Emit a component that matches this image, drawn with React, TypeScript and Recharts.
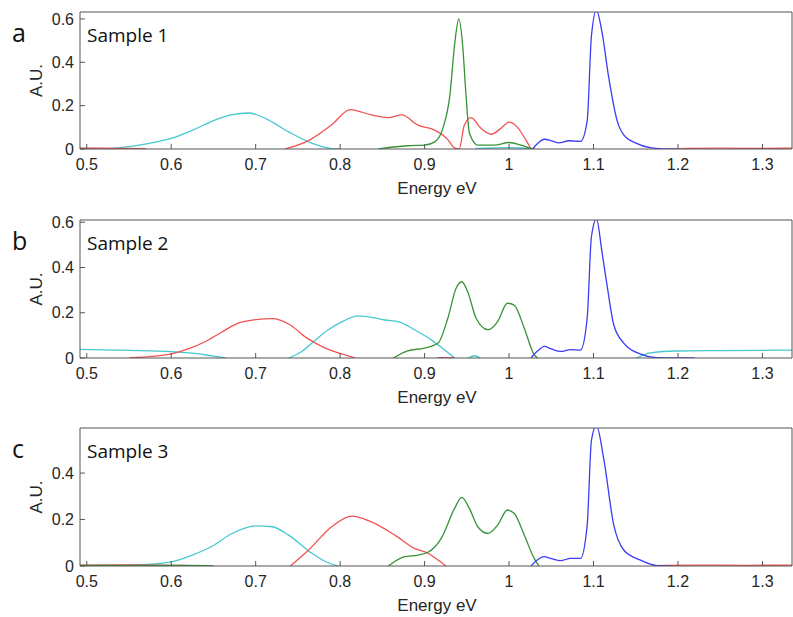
import { Line, LineChart, XAxis, YAxis } from 'recharts';

type Pt = [number, number | null];

const ENERGY_TICKS = [0.5, 0.6, 0.7, 0.8, 0.9, 1, 1.1, 1.2, 1.3];
const ENERGY_DOMAIN: [number, number] = [0.492, 1.335];
const PANEL_LETTERS = ['a', 'b', 'c'];
const SAMPLE_NAMES = ['Sample 1', 'Sample 2', 'Sample 3'];
const Y_MAX = [0.632, 0.61, 0.594];
const Y_TICKS = [
  [0, 0.2, 0.4, 0.6],
  [0, 0.2, 0.4, 0.6],
  [0, 0.2, 0.4],
];

// sample 1
const CYAN_1: Pt[] = [
  [0.49, 0.003], [0.52, 0.003], [0.547, 0.01], [0.574, 0.026], [0.6, 0.049], [0.625, 0.086],
  [0.649, 0.129], [0.672, 0.159], [0.692, 0.166], [0.712, 0.14], [0.739, 0.079], [0.767, 0.026],
  [0.79, 0.002], [0.8, 0], [0.9, null], [0.96, 0.002], [1.0, 0.006], [1.03, 0],
];
const RED_1: Pt[] = [
  [0.49, 0.004], [0.53, 0.003], [0.57, 0.002], [0.6, null],
  [0.735, 0], [0.763, 0.04], [0.79, 0.112], [0.812, 0.182], [0.837, 0.157], [0.857, 0.145],
  [0.873, 0.157], [0.892, 0.11], [0.912, 0.087], [0.926, 0.05], [0.936, 0.004], [0.941, 0],
  [0.947, 0.11], [0.955, 0.145], [0.967, 0.094], [0.979, 0.068], [0.99, 0.094], [1.0, 0.124],
  [1.01, 0.1], [1.02, 0.041], [1.026, 0], [1.1, null],
  [1.2, 0.002], [1.25, 0.004], [1.3, 0.003], [1.34, 0.004],
];
const GREEN_1: Pt[] = [
  [0.845, 0], [0.86, 0.008], [0.88, 0.015], [0.9, 0.018], [0.912, 0.033], [0.922, 0.1],
  [0.93, 0.25], [0.9355, 0.48], [0.9405, 0.6], [0.945, 0.48], [0.949, 0.25], [0.953, 0.075],
  [0.963, 0.018], [0.9825, 0.018], [1.0, 0.03], [1.014, 0.018], [1.026, 0.003], [1.03, 0],
];
const BLUE_1: Pt[] = [
  [1.028, 0], [1.035, 0.03], [1.042, 0.045], [1.05, 0.038], [1.059, 0.028], [1.071, 0.038],
  [1.079, 0.036], [1.0846, 0.035], [1.0925, 0.13], [1.0975, 0.52], [1.1035, 0.64], [1.11, 0.54],
  [1.118, 0.33], [1.128, 0.13], [1.136, 0.064], [1.151, 0.026], [1.167, 0.006], [1.183, 0.001], [1.2, 0],
];

// sample 2
const CYAN_2: Pt[] = [
  [0.49, 0.038], [0.55, 0.034], [0.6, 0.028], [0.633, 0.018], [0.65, 0.008], [0.665, 0], [0.7, null],
  [0.739, 0], [0.755, 0.03], [0.7705, 0.079], [0.786, 0.125], [0.802, 0.16], [0.8215, 0.186],
  [0.84, 0.178], [0.853, 0.168], [0.869, 0.161], [0.888, 0.125], [0.908, 0.08], [0.9235, 0.036],
  [0.9355, 0], [0.945, null], [0.952, 0], [0.959, 0.01], [0.966, 0], [1.0, null],
  [1.151, 0], [1.167, 0.023], [1.198, 0.031], [1.25, 0.033], [1.3, 0.034], [1.34, 0.035],
];
const RED_2: Pt[] = [
  [0.55, 0], [0.58, 0.008], [0.6, 0.018], [0.62, 0.04], [0.64, 0.072], [0.66, 0.115],
  [0.68, 0.155], [0.7, 0.17], [0.72, 0.174], [0.74, 0.148], [0.76, 0.09], [0.78, 0.048],
  [0.8, 0.02], [0.818, 0], [0.87, null], [0.915, 0.002], [0.935, 0.002],
];
const GREEN_2: Pt[] = [
  [0.863, 0], [0.88, 0.032], [0.9, 0.044], [0.916, 0.066], [0.9275, 0.176], [0.9373, 0.308],
  [0.944, 0.337], [0.951, 0.293], [0.961, 0.176], [0.975, 0.125], [0.9865, 0.161], [0.998, 0.242],
  [1.006, 0.234], [1.018, 0.132], [1.0297, 0.015], [1.034, 0],
];
const BLUE_2: Pt[] = [
  [1.026, 0], [1.035, 0.035], [1.0415, 0.051], [1.05, 0.04], [1.061, 0.029], [1.0728, 0.037],
  [1.0846, 0.035], [1.0925, 0.176], [1.0975, 0.535], [1.1035, 0.615], [1.11, 0.469], [1.116, 0.322],
  [1.124, 0.146], [1.1358, 0.066], [1.155, 0.018], [1.175, 0.002], [1.22, 0],
];

// sample 3
const CYAN_3: Pt[] = [
  [0.49, 0.002], [0.55, 0.003], [0.575, 0.008], [0.6, 0.018], [0.625, 0.047], [0.649, 0.086],
  [0.672, 0.14], [0.7, 0.173], [0.7194, 0.169], [0.739, 0.133], [0.7666, 0.055], [0.785, 0.015], [0.798, 0],
];
const RED_3: Pt[] = [
  [0.49, 0.004], [0.55, 0.005], [0.6, 0.003], [0.62, 0.002], [0.7, null],
  [0.741, 0], [0.7627, 0.069], [0.79, 0.169], [0.8137, 0.215], [0.837, 0.19], [0.8648, 0.133],
  [0.888, 0.076], [0.904, 0.055], [0.9158, 0.026], [0.9256, 0], [1.0, null],
  [1.17, 0.002], [1.22, 0.004], [1.28, 0.003], [1.34, 0.004],
];
const GREEN_3: Pt[] = [
  [0.49, 0.003], [0.6, 0.003], [0.65, 0.002], [0.7, null],
  [0.857, 0], [0.8766, 0.04], [0.892, 0.047], [0.904, 0.059], [0.9197, 0.119], [0.9355, 0.248],
  [0.944, 0.295], [0.953, 0.248], [0.963, 0.169], [0.975, 0.14], [0.9865, 0.176], [0.998, 0.241],
  [1.006, 0.227], [1.018, 0.133], [1.0297, 0.033], [1.0355, 0],
];
const BLUE_3: Pt[] = [
  [1.026, 0], [1.035, 0.03], [1.0415, 0.04], [1.05, 0.032], [1.061, 0.023], [1.0728, 0.033],
  [1.0846, 0.033], [1.0925, 0.176], [1.0975, 0.54], [1.1035, 0.605], [1.112, 0.463], [1.124, 0.176],
  [1.1358, 0.069], [1.155, 0.026], [1.175, 0.002], [1.19, 0],
];

const SERIES = [
  [CYAN_1, RED_1, GREEN_1, BLUE_1],
  [CYAN_2, RED_2, GREEN_2, BLUE_2],
  [CYAN_3, RED_3, GREEN_3, BLUE_3],
];
const COLORS = ['#45c9cf', '#f25252', '#379337', '#3c3cf5'];

const PLOT_TOP = [12, 220, 428];
const PLOT_H = [137, 138, 138];
const W = 793;

const AXIS = '#555';
const TICK = { fontSize: 16, fill: '#262626', fontFamily: '"Liberation Sans", Arial, sans-serif' };

function toRows(pts: Pt[]) {
  return pts.map(([x, y]) => ({ x, y }));
}

function Panel({ i }: { i: number }) {
  const h = PLOT_H[i];
  return (
    <div style={{ position: 'absolute', left: 0, top: PLOT_TOP[i] - 12, width: W, height: 12 + h + 40 }}>
      <LineChart width={W} height={12 + h + 40} margin={{ top: 11, right: 0, bottom: 10, left: 40 }}>
        <XAxis
          dataKey="x"
          type="number"
          domain={ENERGY_DOMAIN}
          allowDataOverflow
          ticks={ENERGY_TICKS}
          interval={0}
          height={30}
          stroke={AXIS}
          tickSize={-5}
          tickMargin={15}
          tick={TICK}
        />
        <XAxis
          xAxisId="t"
          dataKey="x"
          orientation="top"
          type="number"
          domain={ENERGY_DOMAIN}
          allowDataOverflow
          ticks={ENERGY_TICKS}
          interval={0}
          height={1}
          stroke={AXIS}
          tickSize={-5}
          tick={false}
        />
        <YAxis
          type="number"
          domain={[0, Y_MAX[i]]}
          allowDataOverflow
          ticks={Y_TICKS[i]}
          interval={0}
          width={40}
          stroke={AXIS}
          tickSize={-5}
          tickMargin={11}
          tick={TICK}
        />
        <YAxis
          yAxisId="r"
          orientation="right"
          type="number"
          domain={[0, Y_MAX[i]]}
          allowDataOverflow
          ticks={Y_TICKS[i]}
          interval={0}
          width={1}
          stroke={AXIS}
          tickSize={-5}
          tick={false}
        />
        {SERIES[i].map((pts, k) => {
          // the blue series is bound to the top/right axes so those axes draw
          const boxed = k === 3;
          return (
            <Line
              key={k}
              data={toRows(pts)}
              dataKey="y"
              xAxisId={boxed ? 't' : 0}
              yAxisId={boxed ? 'r' : 0}
              type="monotone"
              stroke={COLORS[k]}
              strokeWidth={1.3}
              dot={false}
              activeDot={false}
              connectNulls={false}
              isAnimationActive={false}
            />
          );
        })}
      </LineChart>
    </div>
  );
}

export default function App() {
  return (
    <div style={{ position: 'absolute', left: 0, top: 0, width: W, height: 617, background: '#fff' }}>
      {[0, 1, 2].map((i) => (
        <Panel key={i} i={i} />
      ))}
      <svg
        width={W}
        height={617}
        style={{ position: 'absolute', left: 0, top: 0, pointerEvents: 'none' }}
      >
        {[0, 1, 2].map((i) => {
          const top = PLOT_TOP[i];
          const bottom = top + PLOT_H[i];
          return (
            <g key={i}>
              <text x={12} y={top + 30} fontSize={25} fontFamily='"Open Sans", sans-serif' fill="#111">
                {PANEL_LETTERS[i]}
              </text>
              <text x={87} y={top + 30} fontSize={19} fontFamily='"Open Sans", sans-serif' fill="#111">
                {SAMPLE_NAMES[i]}
              </text>
              <text
                transform={`translate(42, ${(top + bottom) / 2}) rotate(-90)`}
                textAnchor="middle"
                fontSize={17}
                fontFamily='"Liberation Sans", Arial, sans-serif'
                fill="#262626"
              >
                A.U.
              </text>
              <text
                x={437}
                y={bottom + 45}
                textAnchor="middle"
                fontSize={17}
                fontFamily='"Liberation Sans", Arial, sans-serif'
                fill="#262626"
              >
                Energy eV
              </text>
            </g>
          );
        })}
      </svg>
    </div>
  );
}
